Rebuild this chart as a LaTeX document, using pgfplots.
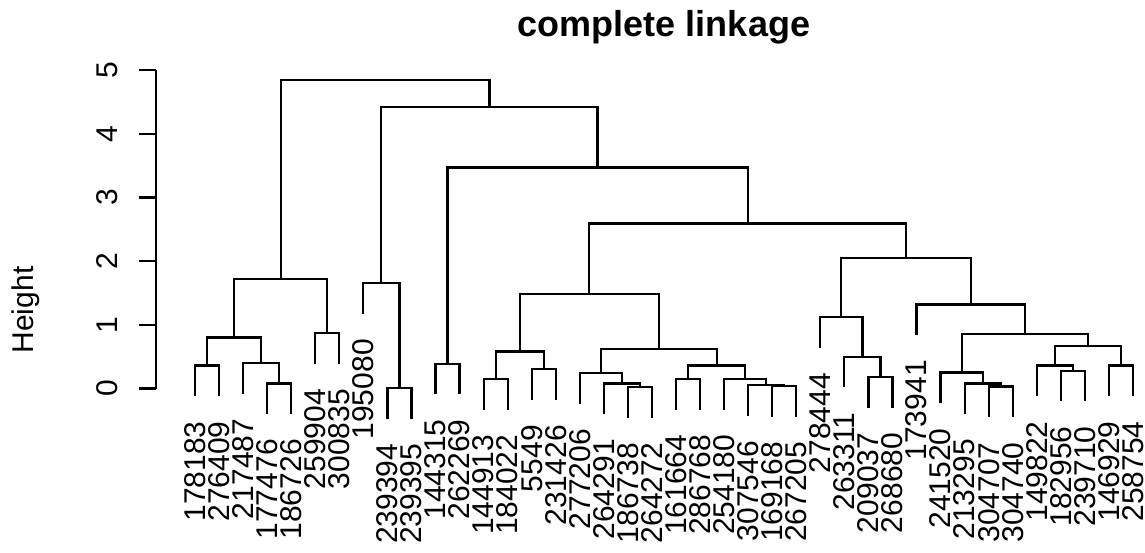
\documentclass[border=0pt]{standalone}
\usepackage{fontspec}
\setmainfont{Liberation Sans}
\usepackage{pgfplots}
\usepackage{pgfplotstable}
\pgfplotsset{compat=1.18}

% dendrogram segments: each merge drawn as a U (left child top, merge height, right child top)
\pgfplotstableread{
x y
1 -0.124
1 0.36
2 0.36
2 -0.124
nan nan
4 -0.404
4 0.08
5 0.08
5 -0.404
nan nan
3 -0.084
3 0.40
4.5 0.40
4.5 0.08
nan nan
1.5 0.36
1.5 0.80
3.75 0.80
3.75 0.40
nan nan
6 0.386
6 0.87
7 0.87
7 0.386
nan nan
2.625 0.80
2.625 1.72
6.5 1.72
6.5 0.87
nan nan
9 -0.474
9 0.01
10 0.01
10 -0.474
nan nan
8 1.166
8 1.65
9.5 1.65
9.5 0.01
nan nan
11 -0.094
11 0.39
12 0.39
12 -0.094
nan nan
13 -0.334
13 0.15
14 0.15
14 -0.334
nan nan
15 -0.184
15 0.30
16 0.30
16 -0.184
nan nan
13.5 0.15
13.5 0.58
15.5 0.58
15.5 0.30
nan nan
19 -0.464
19 0.02
20 0.02
20 -0.464
nan nan
18 -0.404
18 0.08
19.5 0.08
19.5 0.02
nan nan
17 -0.244
17 0.24
18.75 0.24
18.75 0.08
nan nan
21 -0.334
21 0.15
22 0.15
22 -0.334
nan nan
25 -0.444
25 0.04
26 0.04
26 -0.444
nan nan
24 -0.434
24 0.05
25.5 0.05
25.5 0.04
nan nan
23 -0.334
23 0.15
24.75 0.15
24.75 0.05
nan nan
21.5 0.15
21.5 0.36
23.875 0.36
23.875 0.15
nan nan
17.875 0.24
17.875 0.62
22.6875 0.62
22.6875 0.36
nan nan
14.5 0.58
14.5 1.48
20.28125 1.48
20.28125 0.62
nan nan
29 -0.304
29 0.18
30 0.18
30 -0.304
nan nan
28 0.016
28 0.50
29.5 0.50
29.5 0.18
nan nan
27 0.636
27 1.12
28.75 1.12
28.75 0.50
nan nan
34 -0.454
34 0.03
35 0.03
35 -0.454
nan nan
33 -0.404
33 0.08
34.5 0.08
34.5 0.03
nan nan
32 -0.234
32 0.25
33.75 0.25
33.75 0.08
nan nan
37 -0.204
37 0.28
38 0.28
38 -0.204
nan nan
36 -0.124
36 0.36
37.5 0.36
37.5 0.28
nan nan
39 -0.124
39 0.36
40 0.36
40 -0.124
nan nan
36.75 0.36
36.75 0.67
39.5 0.67
39.5 0.36
nan nan
32.875 0.25
32.875 0.86
38.125 0.86
38.125 0.67
nan nan
31 0.836
31 1.32
35.5 1.32
35.5 0.86
nan nan
27.875 1.12
27.875 2.05
33.25 2.05
33.25 1.32
nan nan
17.390625 1.48
17.390625 2.59
30.5625 2.59
30.5625 2.05
nan nan
11.5 0.39
11.5 3.47
23.9765625 3.47
23.9765625 2.59
nan nan
8.75 1.65
8.75 4.42
17.73828 4.42
17.73828 3.47
nan nan
4.5625 1.72
4.5625 4.84
13.24414 4.84
13.24414 4.42
}\segments

% leaf labels: x, y (leaf end minus gap), label
\pgfplotstableread{
x y label
1 -0.514 178183
2 -0.514 276409
3 -0.474 217487
4 -0.794 177476
5 -0.794 186726
6 -0.004 259904
7 -0.004 300835
8 0.776 195080
9 -0.864 239394
10 -0.864 239395
11 -0.484 144315
12 -0.484 262269
13 -0.724 144913
14 -0.724 184022
15 -0.574 5549
16 -0.574 231426
17 -0.634 277206
18 -0.794 264291
19 -0.854 186738
20 -0.854 264272
21 -0.724 161664
22 -0.724 286768
23 -0.724 254180
24 -0.824 307546
25 -0.834 169168
26 -0.834 267205
27 0.246 278444
28 -0.374 263311
29 -0.694 209037
30 -0.694 268680
31 0.446 173941
32 -0.624 241520
33 -0.794 213295
34 -0.844 304707
35 -0.844 304740
36 -0.514 149822
37 -0.594 182956
38 -0.594 239710
39 -0.514 146929
40 -0.514 258754
}\leaflabels

\begin{document}
\begin{tikzpicture}
\path[use as bounding box] (0,0) rectangle (1145pt,552pt);
\begin{axis}[
  at={(156pt,163.5pt)}, anchor=south west,
  scale only axis, width=989pt, height=318.5pt,
  xmin=-0.6216, xmax=40.5, ymin=0, ymax=5,
  clip=false,
  axis x line=none,
  axis y line*=left,
  y axis line style={-, line width=2.2pt},
  ytick={0,1,2,3,4,5},
  tick align=outside,
  major tick length=17pt,
  tick style={line width=2.2pt, black},
  yticklabel style={rotate=90, anchor=south, inner xsep=0pt, inner ysep=21pt, font=\fontsize{30}{36}\selectfont},
  /pgf/number format/assume math mode=true,
  unbounded coords=jump,
]
\addplot[black, line width=2.2pt, mark=none] table[x=x, y=y] {\segments};
\addplot[draw=none, mark=none,
  nodes near coords, point meta=explicit symbolic,
  every node near coord/.append style={rotate=90, anchor=east, inner sep=0pt, font=\fontsize{30}{36}\selectfont}]
  table[x=x, y=y, meta=label] {\leaflabels};
\end{axis}
\node[anchor=base, font=\fontsize{36}{43}\selectfont\bfseries] at (664pt,515pt) {complete linkage};
\node[rotate=90, anchor=base, font=\fontsize{30}{36}\selectfont] at (33pt,242pt) {Height};
\end{tikzpicture}
\end{document}
